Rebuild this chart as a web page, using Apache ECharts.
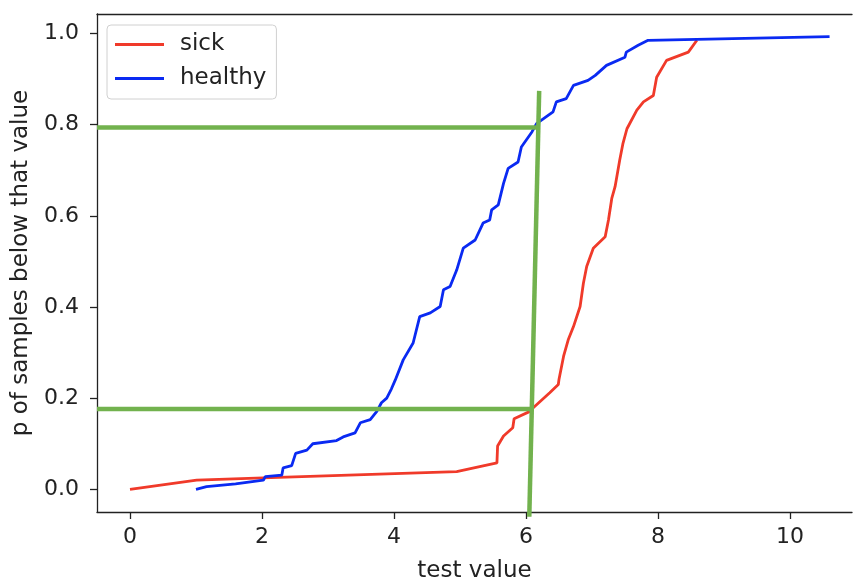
<!DOCTYPE html>
<html>
<head>
<meta charset="utf-8">
<script src="https://cdn.jsdelivr.net/npm/echarts@6/dist/echarts.min.js"></script>
<style>
  html, body { margin: 0; padding: 0; background: #fff; }
  #main { width: 854px; height: 577px; }
</style>
</head>
<body>
<div id="main"></div>
<script>
// 刻度
const xTicks = [0, 2, 4, 6, 8, 10]
const yTicks = [0, 0.2, 0.4, 0.6, 0.8, 1.0]

// healthy 曲线（从图上读出的点）
const healthyX = [1.0, 1.16, 1.6, 2.02, 2.05, 2.30, 2.32, 2.45, 2.51, 2.68, 2.77, 3.13, 3.23, 3.41, 3.49, 3.64, 3.74, 3.81, 3.89, 3.96, 4.02, 4.14, 4.29, 4.39, 4.55, 4.70, 4.75, 4.85, 4.95, 5.05, 5.23, 5.35, 5.45, 5.48, 5.58, 5.66, 5.73, 5.88, 5.93, 6.09, 6.16, 6.41, 6.46, 6.61, 6.72, 6.94, 7.05, 7.22, 7.50, 7.52, 7.70, 7.85, 7.88, 10.6]
const healthyY = [0.0, 0.006, 0.012, 0.02, 0.028, 0.031, 0.047, 0.052, 0.079, 0.086, 0.10, 0.107, 0.115, 0.124, 0.146, 0.153, 0.171, 0.19, 0.20, 0.22, 0.24, 0.284, 0.321, 0.379, 0.387, 0.401, 0.438, 0.445, 0.481, 0.529, 0.547, 0.584, 0.591, 0.613, 0.624, 0.671, 0.704, 0.718, 0.751, 0.784, 0.802, 0.828, 0.850, 0.857, 0.886, 0.897, 0.908, 0.930, 0.948, 0.959, 0.974, 0.985, 0.988, 0.993]

// sick 曲线
const sickX = [0, 1.01, 2.02, 4.95, 5.56, 5.57, 5.66, 5.80, 5.82, 6.06, 6.11, 6.36, 6.49, 6.50, 6.57, 6.64, 6.72, 6.82, 6.87, 6.92, 7.02, 7.20, 7.25, 7.30, 7.35, 7.42, 7.47, 7.53, 7.68, 7.78, 7.93, 7.98, 8.13, 8.46, 8.59]
const sickY = [0, 0.020, 0.025, 0.039, 0.058, 0.095, 0.117, 0.135, 0.155, 0.171, 0.179, 0.212, 0.230, 0.241, 0.292, 0.328, 0.357, 0.401, 0.452, 0.489, 0.529, 0.554, 0.591, 0.638, 0.664, 0.722, 0.759, 0.791, 0.832, 0.850, 0.864, 0.904, 0.941, 0.959, 0.985]

// 绿色辅助线
const xMin = -0.5
const xMax = 10.94
const upperLineX = [xMin, 6.19]
const upperLineY = [0.794, 0.794]
const lowerLineX = [xMin, 6.08]
const lowerLineY = [0.176, 0.176]
const vertLineX = [6.05, 6.2]
const vertLineY = [-0.06, 0.874]

const zip = (xs, ys) => xs.map((x, i) => [x, ys[i]])

const font = 'DejaVu Sans'
const textColor = '#222'
const spine = { color: '#222', width: 1.3 }

const greenLine = (name, xs, ys) => ({
  name,
  type: 'line',
  data: zip(xs, ys),
  showSymbol: false,
  symbol: 'none',
  clip: false,
  lineStyle: { color: '#72b24e', width: 4.5 },
  z: 5,
})

const options = {
  animation: false,
  grid: {
    left: 97,
    right: 2,
    top: 14,
    bottom: 65,
    containLabel: false,
    outerBoundsMode: 'none',
  },
  legend: {
    data: ['sick', 'healthy'],
    orient: 'vertical',
    left: 107,
    top: 25,
    padding: [8, 10, 9, 8],
    itemGap: 11,
    itemWidth: 49,
    itemHeight: 3,
    icon: 'rect',
    borderColor: '#d0d0d0',
    borderWidth: 1,
    borderRadius: 4,
    backgroundColor: '#fff',
    textStyle: { fontFamily: font, fontSize: 23, color: textColor, padding: [0, 0, 0, 11] },
  },
  xAxis: [
    {
      type: 'value',
      min: xMin,
      max: xMax,
      name: 'test value',
      nameLocation: 'middle',
      nameGap: 48,
      nameTextStyle: { fontFamily: font, fontSize: 23, color: textColor },
      splitLine: { show: false },
      axisLine: { onZero: false, lineStyle: spine },
      axisTick: { customValues: xTicks, length: 7, lineStyle: spine },
      axisLabel: {
        customValues: xTicks,
        margin: 14,
        fontFamily: font,
        fontSize: 22,
        color: textColor,
      },
    },
    {
      // 顶部边框
      type: 'value',
      position: 'top',
      min: xMin,
      max: xMax,
      splitLine: { show: false },
      axisLine: { onZero: false, lineStyle: spine },
      axisTick: { show: false },
      axisLabel: { show: false },
    },
  ],
  yAxis: {
    type: 'value',
    min: -0.0497,
    max: 1.0427,
    name: 'p of samples below that value',
    nameLocation: 'middle',
    nameGap: 64,
    nameTextStyle: { fontFamily: font, fontSize: 23, color: textColor },
    splitLine: { show: false },
    axisLine: { show: true, onZero: false, lineStyle: spine },
    axisTick: { show: true, customValues: yTicks, length: 7, lineStyle: spine },
    axisLabel: {
      customValues: yTicks,
      margin: 18,
      fontFamily: font,
      fontSize: 22,
      color: textColor,
      formatter: (v) => v.toFixed(1),
    },
  },
  series: [
    {
      name: 'sick',
      type: 'line',
      data: zip(sickX, sickY),
      showSymbol: false,
      symbol: 'none',
      lineStyle: { color: '#f03a2a', width: 2.8 },
      itemStyle: { color: '#f03a2a' },
    },
    {
      name: 'healthy',
      type: 'line',
      data: zip(healthyX, healthyY),
      showSymbol: false,
      symbol: 'none',
      lineStyle: { color: '#0a2af2', width: 2.8 },
      itemStyle: { color: '#0a2af2' },
    },
    greenLine('upper', upperLineX, upperLineY),
    greenLine('lower', lowerLineX, lowerLineY),
    greenLine('vertical', vertLineX, vertLineY),
  ],
}

const chart = echarts.init(document.getElementById('main'))
chart.setOption(options)
</script>
</body>
</html>
